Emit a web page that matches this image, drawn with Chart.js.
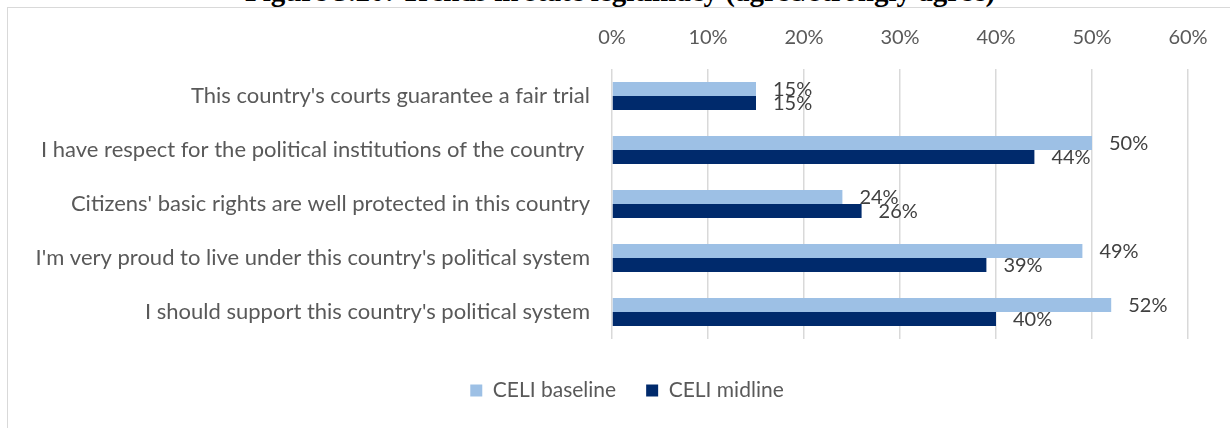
<!DOCTYPE html>
<html>
<head>
<meta charset="utf-8">
<script src="https://cdn.jsdelivr.net/npm/chart.js@4.4.1/dist/chart.umd.min.js"></script>
<style>
html,body{margin:0;padding:0;background:#fff;overflow:hidden;}
#wrap{position:relative;width:1230px;height:428px;overflow:hidden;}
#title{position:absolute;left:0;width:1240px;top:-23px;text-align:center;font:bold 29px "Liberation Serif","Times New Roman",serif;line-height:29px;color:#000;white-space:nowrap;}
#frame{position:absolute;left:7px;top:7px;width:1260px;height:460px;border:1px solid #d9d9d9;background:#fff;}
#box{position:absolute;left:0;top:0;width:1230px;height:428px;}
</style>
</head>
<body>
<div id="wrap">
<div id="frame"></div>
<div id="title">Figure 3.20: Trends in state legitimacy (agree/strongly agree)</div>
<div id="box"><canvas id="chart" width="1230" height="428"></canvas></div>
</div>
<script>
const categories=[
"This country's courts guarantee a fair trial",
"I have respect for the political institutions of the country ",
"Citizens' basic rights are well protected in this country",
"I'm very proud to live under this country's political system",
"I should support this country's political system"
];
const baseline=[15,50,24,49,52];
const midline=[15,44,26,39,40];
const tickMax=60;

const family="Lato, 'Open Sans', sans-serif";

// value labels just past the end of each bar
const barLabels={
id:"barLabels",
afterDatasetsDraw(chart){
const ctx=chart.ctx;
ctx.save();
ctx.font="20px "+family;
ctx.fillStyle="#404040";
ctx.textAlign="left";
ctx.textBaseline="middle";
chart.data.datasets.forEach((ds,i)=>{
chart.getDatasetMeta(i).data.forEach((bar,j)=>{
ctx.fillText(ds.data[j]+"%",bar.x+17,bar.y+1);
});
});
ctx.restore();
}
};

// legend sits a bit right of the canvas centre
const legendShift={
id:"legendShift",
afterLayout(chart){
chart.legend.left+=29;
chart.legend.right+=29;
}
};

new Chart(document.getElementById("chart"),{
type:"bar",
data:{
labels:categories,
datasets:[
{label:"CELI baseline",data:baseline,backgroundColor:"#9dc0e5"},
{label:"CELI midline",data:midline,backgroundColor:"#002a6c"}
]
},
options:{
indexAxis:"y",
responsive:false,
animation:false,
devicePixelRatio:1,
categoryPercentage:0.52,
barPercentage:1,
layout:{padding:{left:8,right:42,top:0,bottom:17}},
scales:{
x:{
position:"top",
min:0,max:tickMax,
afterFit(s){s.height=69;},
grid:{color:"#d9d9d9",lineWidth:1.5,drawTicks:false},
border:{display:false},
ticks:{stepSize:10,padding:19,color:"#595959",font:{family:family,size:20},callback:v=>v+"%"}
},
y:{
afterFit(s){s.width=604;},
grid:{display:false,drawTicks:false},
border:{display:false},
ticks:{padding:22,color:"#595959",font:{family:family,size:22}}
}
},
plugins:{
legend:{
position:"bottom",
title:{display:true,text:"",padding:0,font:{size:11,lineHeight:1}},
labels:{boxWidth:12,boxHeight:12,padding:30,color:"#595959",font:{family:family,size:21}}
},
tooltip:{enabled:false}
}
},
plugins:[barLabels,legendShift]
});
</script>
</body>
</html>
